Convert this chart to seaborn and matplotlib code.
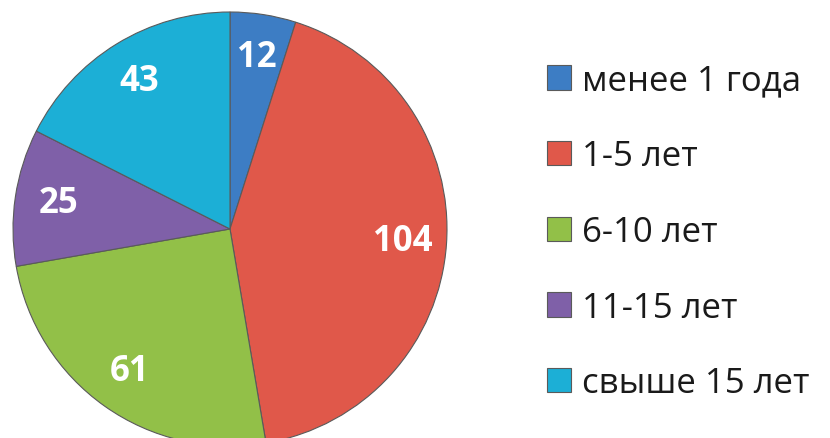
import matplotlib as mpl
mpl.use("Agg")
import matplotlib.pyplot as plt
import seaborn as sns

categories = ['менее 1 года', '1-5 лет', '6-10 лет', '11-15 лет', 'свыше 15 лет']
values = [12, 104, 61, 25, 43]
colors = ['#3D7DC4', '#E0584A', '#92C048', '#7F60A8', '#1CAFD6']

sns.set_theme(style='white')
plt.rcParams['font.family'] = ['Open Sans', 'DejaVu Sans']

fig = plt.figure(figsize=(8.3, 4.39), dpi=100)
ax = fig.add_axes([13 / 830, -8 / 439, 434 / 830, 434 / 439])

wedges, texts, autotexts = ax.pie(
    values, colors=colors, startangle=90, counterclock=False, radius=1,
    autopct=lambda p: f'{round(p * sum(values) / 100):d}', pctdistance=0.8,
    wedgeprops={'edgecolor': '#5a5a5a', 'linewidth': 0.8},
    textprops={'color': 'white', 'fontsize': 25, 'fontweight': 'bold'})
ax.set_xlim(-1, 1)
ax.set_ylim(-1, 1)
ax.set_aspect('equal')

fig.legend(wedges, categories, loc='center left',
           bbox_to_anchor=(547 / 830, 206 / 439), frameon=False,
           fontsize=25, handlelength=0.7, handleheight=0.7,
           handletextpad=0.3, labelspacing=1.2, borderpad=0,
           borderaxespad=0, labelcolor='#1a1a1a')

fig.savefig('out.png', dpi=100)
